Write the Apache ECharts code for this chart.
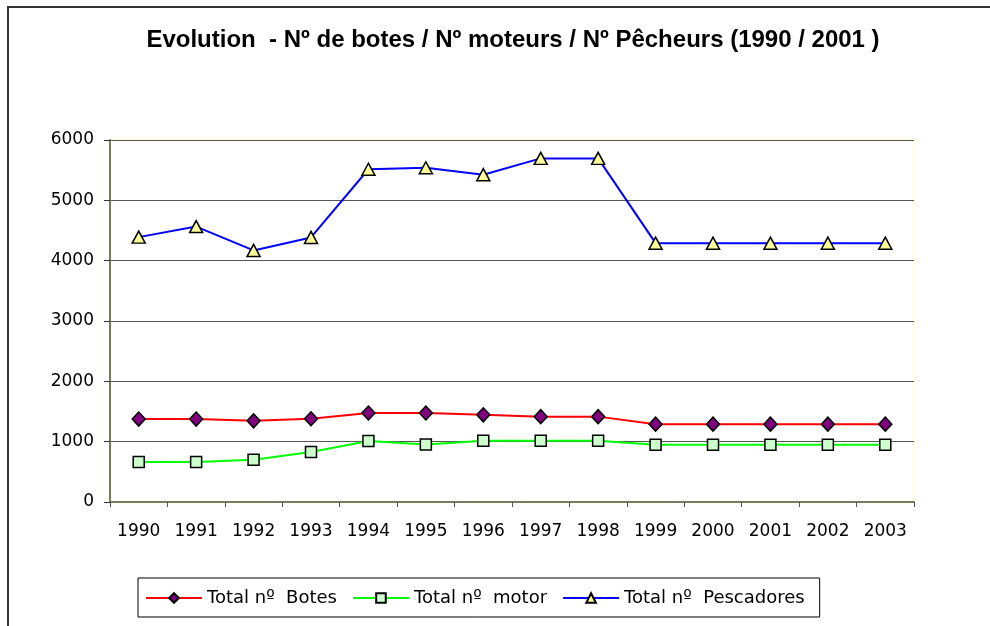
<!DOCTYPE html>
<html>
<head>
<meta charset="utf-8">
<script src="https://cdn.jsdelivr.net/npm/echarts@6/dist/echarts.min.js"></script>
<style>html,body{margin:0;padding:0;background:#fff;}#c{width:990px;height:626px;}</style>
</head>
<body>
<div id="c"></div>
<script>
const years = ['1990','1991','1992','1993','1994','1995','1996','1997','1998','1999','2000','2001','2002','2003'];
const botes = [1375,1375,1345,1380,1475,1475,1445,1415,1415,1290,1290,1290,1290,1290];
const motor = [665,665,700,830,1010,955,1015,1015,1015,950,950,950,950,950];
const pescadores = [4390,4565,4170,4385,5515,5540,5425,5695,5695,4290,4290,4290,4290,4290];
const seriesNames = ['Total nº  Botes','Total nº  motor','Total nº  Pescadores'];
const yTicks = [0,1000,2000,3000,4000,5000,6000];
const titleText = 'Evolution  - Nº de botes / Nº moteurs / Nº Pêcheurs (1990 / 2001 )';

const chart = echarts.init(document.getElementById('c'), null, {renderer:'canvas'});
const font = 'Liberation Sans, Arial, sans-serif';
const labFont = 'DejaVu Sans, sans-serif';
chart.setOption({
  animation:false,
  backgroundColor:'#fff',
  textStyle:{fontFamily:labFont},
  graphic:[
    {type:'rect', shape:{x:8,y:7,width:1100,height:700}, style:{fill:'none',stroke:'#333',lineWidth:2}, z:-1},
    {type:'rect', shape:{x:110,y:140,width:804,height:362}, style:{fill:'none',stroke:'#ffffd8',lineWidth:2}, z:-1},
    {type:'text', x:513, y:40, style:{text:titleText, fontFamily:font, fontSize:24, fontWeight:'bold', fill:'#000', align:'center', verticalAlign:'middle'}}
  ],
  grid:{left:110,right:76,top:140,bottom:124,containLabel:false},
  legend:{
    left:138, top:578,
    padding:[11,15,10,7],
    borderColor:'#000', borderWidth:1,
    itemWidth:56, itemHeight:12, itemGap:15,
    textStyle:{fontFamily:labFont,fontSize:18,color:'#000'},
    data:seriesNames
  },
  xAxis:{
    type:'category', data:years, boundaryGap:true,
    axisLine:{lineStyle:{color:'#7a7a5c',width:2}},
    axisTick:{show:true,length:5,inside:false,lineStyle:{color:'#555'}},
    axisLabel:{fontFamily:labFont,fontSize:17,color:'#000',margin:21}
  },
  yAxis:{
    type:'value', min:yTicks[0], max:yTicks[yTicks.length-1], interval:1000,
    axisLine:{show:true,lineStyle:{color:'#7a7a5c',width:2}},
    axisTick:{show:true,length:6,lineStyle:{color:'#333'}},
    axisLabel:{fontFamily:labFont,fontSize:17,color:'#000',margin:16,formatter:function(v){return String(v);}},
    splitLine:{show:true,lineStyle:{color:'#555',width:1}}
  },
  series:[
    {name:seriesNames[0], type:'line', data:botes, symbol:'diamond', symbolSize:[13,14],
     lineStyle:{color:'#ff0000',width:2}, itemStyle:{color:'#800080',borderColor:'#000',borderWidth:1.5}, z:3},
    {name:seriesNames[1], type:'line', data:motor, symbol:'rect', symbolSize:11,
     lineStyle:{color:'#00ff00',width:2}, itemStyle:{color:'#ccffcc',borderColor:'#000',borderWidth:1.5}, z:3},
    {name:seriesNames[2], type:'line', data:pescadores, symbol:'triangle', symbolSize:[13,12],
     lineStyle:{color:'#0000ff',width:2}, itemStyle:{color:'#ffff99',borderColor:'#000',borderWidth:1.5}, z:3}
  ]
});
</script>
</body>
</html>
